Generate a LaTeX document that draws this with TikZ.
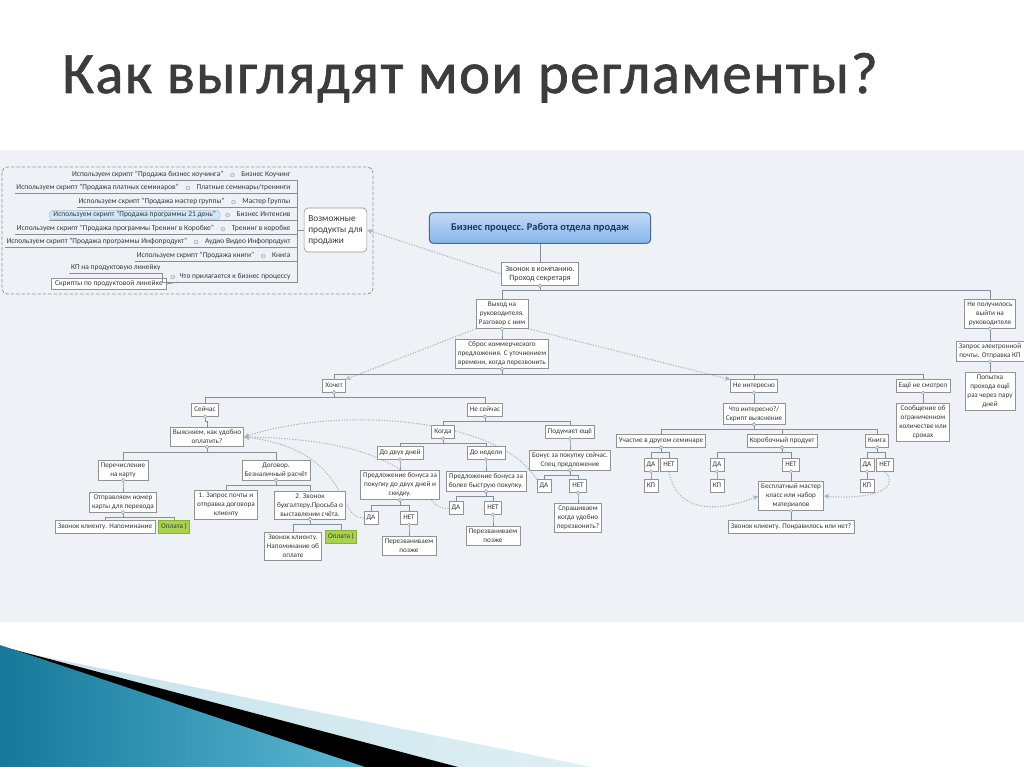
\documentclass[tikz,border=0pt]{standalone}
\usepackage{fontspec}
\setmainfont{Carlito}
\newfontfamily\titlefont[LetterSpace=2.5,FakeBold=1.2]{Carlito}
\usetikzlibrary{arrows.meta,positioning,backgrounds}

\definecolor{panel}{HTML}{EEF1F6}
\definecolor{boxline}{HTML}{929292}
\definecolor{linegray}{HTML}{858D97}
\definecolor{relgray}{HTML}{A9B4C2}
\definecolor{txt}{HTML}{383838}
\definecolor{rootfill}{HTML}{86B5EA}
\definecolor{rootline}{HTML}{4A6890}
\definecolor{roottxt}{HTML}{1D3557}
\definecolor{payfill}{HTML}{A9D34E}
\definecolor{payline}{HTML}{84B33A}
\definecolor{hlfill}{HTML}{D3E7F4}
\definecolor{hlline}{HTML}{A5C8DF}
\definecolor{titlegray}{HTML}{3C3C3C}
\definecolor{wavelight}{HTML}{C4E2EB}
\definecolor{waveblue}{HTML}{16789A}
\definecolor{wavesky}{HTML}{5CB8D4}

\tikzset{
  box/.style={draw=boxline, fill=white, line width=0.45pt, inner xsep=2pt, inner ysep=2pt,
    font=\fontsize{5.4}{6.7}\selectfont, text=txt, align=center},
  short/.style={box, text height=4pt, text depth=1.4pt},
  item/.style={inner xsep=1pt, inner ysep=0.8pt, font=\fontsize{5.6}{6.4}\selectfont, text=txt,
    text height=4.2pt, text depth=1.3pt, anchor=east},
  pay/.style={short, fill=payfill, draw=payline},
  tree/.style={draw=linegray, line width=0.6pt},
  rel/.style={draw=relgray, line width=0.8pt, dash pattern={on 0.9pt off 1.1pt},
    -{Stealth[open,length=4pt,width=4pt]}},
  knob/.style={draw=linegray!80, fill=hlfill, line width=0.3pt},
}

\begin{document}
\begin{tikzpicture}[x=0.75pt,y=0.75pt,yscale=-1,xscale=1]
\useasboundingbox (0,0) rectangle (1024,767);

%Shape: panel and bottom waves
\begin{pgfonlayer}{background}
\fill[panel] (0,150) rectangle (1024,622);
\end{pgfonlayer}
\shade[left color=wavelight, right color=wavelight!55!white] (0,648) -- (592,767) -- (0,767) -- cycle;
\fill[black] (0,646) -- (458,767) -- (0,767) -- cycle;
\shade[left color=waveblue, right color=wavesky] (0,645) -- (365,767) -- (0,767) -- cycle;

% Text Node
\node (title) [anchor=base west, inner sep=0pt, text=titlegray, font=\titlefont\fontsize{44}{50}\selectfont] at (62,93) {Как выглядят мои регламенты?};

%Shape: products group
\draw[boxline, line width=0.6pt, dash pattern={on 2.5pt off 1.5pt}, rounded corners=4] (2,167) rectangle (373,294);
\node (prod) [box, rounded corners=3, align=left, font=\fontsize{7}{8.4}\selectfont, minimum width=47pt, minimum height=33pt, inner xsep=3pt] at (335.5,230) {Возможные\\продукты для\\продажи};

\node (p1) [item] at (292,175) {Бизнес Коучинг};
\node (s1) [item, left=11pt of p1] {Используем скрипт "Продажа бизнес коучинга"};
\node (p2) [item] at (292,188) {Платные семинары/тренинги};
\node (s2) [item, left=11pt of p2] {Используем скрипт "Продажа платных семинаров"};
\node (p3) [item] at (292,202) {Мастер Группы};
\node (s3) [item, left=11pt of p3] {Используем скрипт "Продажа мастер группы"};
\node (p4) [item] at (292,215) {Бизнес Интенсив};
\node (s4) [item, left=11pt of p4, fill=hlfill, draw=hlline, rounded corners=2.5, inner xsep=3pt] {Используем скрипт "Продажа программы 21 день"};
\node (p5) [item] at (292,229) {Тренинг в коробке};
\node (s5) [item, left=11pt of p5] {Используем скрипт "Продажа программы Тренинг в Коробке"};
\node (p6) [item] at (292,242) {Аудио Видео Инфопродукт};
\node (s6) [item, left=11pt of p6] {Используем скрипт "Продажа программы Инфопродукт"};
\node (p7) [item] at (292,256) {Книга};
\node (s7) [item, left=11pt of p7] {Используем скрипт "Продажа книги"};
\node (p8) [item] at (292,277) {Что прилагается к бизнес процессу};
\node (k1) [item] at (162,268) {КП на продуктовую линейку};
\node (k2) [item, draw=boxline, fill=white, inner xsep=3pt, inner ysep=1.5pt] at (167,284) {Скрипты по продуктовой линейке};

\foreach \n in {1,...,7} {
  \draw[tree] (s\n.south west) -- (p\n.south east);
  \draw[knob] ([xshift=-5.5pt]p\n.west) circle (2);
}
\foreach \n in {1,...,8}
  \draw[tree] (p\n.south east) -- ++(5,0) |- (prod.west);
\draw[tree] (p8.south west) -- (p8.south east);
\draw[tree] (k1.south west) -- (k1.south east) |- (p8.south west);
\draw[tree] (k2.east) -- (p8.south west);
\draw[knob] ([xshift=-4pt]p8.west) circle (2);

% Text Node: main tree
\node (root) [draw=rootline, rounded corners=3, line width=0.8pt, top color=rootfill!50!white, bottom color=rootfill, minimum width=166pt, minimum height=23pt, font=\bfseries\fontsize{7.8}{9}\selectfont, text=roottxt] at (540,228) {Бизнес процесс. Работа отдела продаж};
\node (zvon) [box, font=\fontsize{6}{7.4}\selectfont, inner xsep=3pt, inner ysep=2.5pt] at (540,274) {Звонок в компанию.\\Проход секретаря};
\node (vyh) [box] at (502,314) {Выход на\\руководителя.\\Разговор с ним};
\node (nepol) [box] at (990,314) {Не получилось\\выйти на\\руководителя};
\node (zapr) [box] at (990,351) {Запрос электронной\\почты. Отправка КП};
\node (popyt) [box] at (990,391) {Попытка\\прохода ещё\\раз через пару\\дней};
\node (sbros) [box] at (502,354) {Сброс коммерческого\\предложения. С уточнением\\времени, когда перезвонить};
\node (hochet) [short] at (334,386) {Хочет};
\node (neint) [short] at (754,386) {Не интересно};
\node (nesmot) [short] at (923,386) {Ещё не смотрел};
\node (seich) [short] at (205,410) {Сейчас};
\node (neseich) [short] at (485,410) {Не сейчас};
\node (vyyas) [box] at (207,437) {Выясняем, как удобно\\оплатить?};
\node (perech) [box] at (123,470) {Перечисление\\на карту};
\node (dogov) [box] at (276,470) {Договор.\\Безналичный расчёт};
\node (otpr) [box] at (123,502) {Отправляем номер\\карты для перевода};
\node (zvkl1) [short] at (105,527) {Звонок клиенту. Напоминание};
\node (opl1) [pay] at (174,527) {Оплата )};
\node (zapros1) [box] at (226,505) {1. Запрос почты и\\отправка договора\\клиенту};
\node (buh) [box] at (310,505) {2. Звонок\\бухгалтеру.Просьба о\\выставлении счёта.};
\node (zvkl2) [box] at (293,546) {Звонок клиенту.\\Напоминание об\\оплате};
\node (opl2) [pay] at (341,537) {Оплата )};
\node (kogda) [short] at (443,432) {Когда};
\node (podum) [short] at (570,432) {Подумает ещё};
\node (dvuh) [short] at (400,453) {До двух дней};
\node (nedel) [short] at (486,453) {До недели};
\node (pred1) [box] at (400,485) {Предложение бонуса за\\покупку до двух дней и\\скидку.};
\node (da1) [short] at (371,518) {ДА};
\node (net1) [short] at (409,518) {НЕТ};
\node (perez1) [box] at (409,546) {Перезваниваем\\позже};
\node (pred2) [box] at (486,481) {Предложение бонуса за\\более быструю покупку.};
\node (da2) [short] at (456,508) {ДА};
\node (net2) [short] at (493,508) {НЕТ};
\node (perez2) [box] at (493,536) {Перезваниваем\\позже};
\node (bonus) [box] at (570,460) {Бонус за покупку сейчас.\\Спец предложение};
\node (da3) [short] at (544,486) {ДА};
\node (net3) [short] at (578,486) {НЕТ};
\node (sprash) [box] at (578,518) {Спрашиваем\\когда удобно\\перезвонить?};
\node (chto) [box] at (754,414) {Что интересно?/\\Скрипт выяснение};
\node (uch) [short] at (661,441) {Участие в другом семинаре};
\node (korob) [short] at (782,441) {Коробочный продукт};
\node (kniga) [short] at (877,441) {Книга};
\node (da4) [short] at (651,465) {ДА};
\node (net4) [short] at (669,465) {НЕТ};
\node (kp4) [short] at (651,486) {КП};
\node (da5) [short] at (717,465) {ДА};
\node (kp5) [short] at (717,486) {КП};
\node (net5) [short] at (791,465) {НЕТ};
\node (besp) [box] at (791,496) {Бесплатный мастер\\класс или набор\\материалов};
\node (zvkl3) [short] at (791,527) {Звонок клиенту. Понравилось или нет?};
\node (da6) [short] at (867,465) {ДА};
\node (net6) [short] at (885,465) {НЕТ};
\node (kp6) [short] at (867,486) {КП};
\node (soob) [box] at (923,422) {Сообщение об\\ограниченном\\количестве или\\сроках};

%Straight Lines: tree connectors
\draw[tree] (root) -- (zvon);
\foreach \a/\b in {zvon/vyh, zvon/nepol, nepol/zapr, zapr/popyt, vyh/sbros, sbros/hochet, sbros/neint, sbros/nesmot, hochet/seich, hochet/neseich, seich/vyyas, vyyas/perech, vyyas/dogov, perech/otpr, otpr/zvkl1, otpr/opl1, dogov/zapros1, dogov/buh, buh/zvkl2, buh/opl2, neseich/kogda, neseich/podum, kogda/dvuh, kogda/nedel, dvuh/pred1, pred1/da1, pred1/net1, net1/perez1, nedel/pred2, pred2/da2, pred2/net2, net2/perez2, podum/bonus, bonus/da3, bonus/net3, net3/sprash, neint/chto, chto/uch, chto/korob, chto/kniga, uch/da4, uch/net4, da4/kp4, korob/da5, korob/net5, da5/kp5, net5/besp, besp/zvkl3, kniga/da6, kniga/net6, da6/kp6, nesmot/soob} {
  \draw[tree] (\a.south) -- ++(0,5) -| (\b.north);
  \draw[knob] (\a.south) circle (1.8);
}

%Shape: dotted relations
\begin{pgfonlayer}{background}
\draw[rel] (zvon.west) -- (prod.east);
\draw[rel] (vyh.south west) -- (hochet.north east);
\draw[rel] (vyh.south east) -- (neint.north west);
\draw[rel] (da1.west) .. controls (336,520) and (352,450) .. (vyyas.east);
\draw[rel] (da2.west) .. controls (418,514) and (440,440) .. (vyyas.east);
\draw[rel] (da3.north west) .. controls (500,418) and (340,405) .. (vyyas.east);
\draw[rel] (net4.south) .. controls (678,522) and (735,506) .. (besp.west);
\draw[rel] (net6.south) .. controls (902,490) and (868,500) .. (besp.east);
\end{pgfonlayer}

\end{tikzpicture}
\end{document}
